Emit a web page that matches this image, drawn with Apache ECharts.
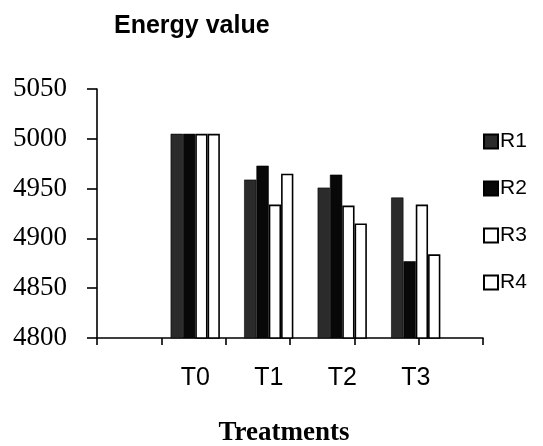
<!DOCTYPE html>
<html>
<head>
<meta charset="utf-8">
<style>
  html, body { margin: 0; padding: 0; background: #fff; }
  #chart { width: 543px; height: 446px; }
</style>
<script src="https://cdn.jsdelivr.net/npm/echarts@6/dist/echarts.min.js"></script>
</head>
<body>
<div id="chart"></div>
<script>
// Treatment groups and replicate energy values
const categories = ['T0', 'T1', 'T2', 'T3'];
const seriesNames = ['R1', 'R2', 'R3', 'R4'];
const r1 = [5005, 4959, 4951, 4941];
const r2 = [5005, 4973, 4964, 4877];
const r3 = [5005, 4934, 4933, 4934];
const r4 = [5005, 4965, 4915, 4884];
const yTicks = { min: 4800, max: 5050, step: 50 };
// Frame axis slots (ticks only)
const frameSlots = ['', '', '', '', '', ''];

const chart = echarts.init(document.getElementById('chart'), null, { renderer: 'canvas' });

const fills = ['#2b2b2b', '#080808', '#ffffff', '#ffffff'];
const values = [r1, r2, r3, r4];

const series = seriesNames.map((name, i) => ({
  name: name,
  type: 'bar',
  xAxisIndex: 1,
  yAxisIndex: 1,
  data: values[i],
  barGap: '0%',
  barCategoryGap: '33%',
  itemStyle: {
    color: fills[i],
    borderColor: '#000',
    borderWidth: i >= 2 ? 1.6 : 0.6
  }
}));

chart.setOption({
  animation: false,
  backgroundColor: '#ffffff',
  title: {
    text: 'Energy value',
    left: 114,
    top: 14,
    padding: 0,
    textStyle: { fontFamily: 'Liberation Sans', fontWeight: 'bold', fontSize: 25, color: '#000' }
  },
  legend: {
    orient: 'vertical',
    left: 483,
    top: 131,
    padding: 0,
    itemWidth: 14,
    itemHeight: 14,
    itemGap: 26,
    icon: 'rect',
    data: seriesNames,
    textStyle: { fontFamily: 'Liberation Sans', fontSize: 21, color: '#000', padding: [0, 0, 0, -3] }
  },
  grid: [
    { left: 97, right: 60, top: 89, bottom: 108 },
    { left: 158.5, right: 90.5, top: 89, bottom: 108 }
  ],
  xAxis: [
    {
      type: 'category',
      gridIndex: 0,
      data: frameSlots,
      boundaryGap: true,
      axisLine: { show: true, lineStyle: { color: '#000', width: 1.6 } },
      axisTick: { show: true, length: 7, interval: 0, lineStyle: { color: '#000', width: 1.6 } },
      axisLabel: { show: false },
      splitLine: { show: false }
    },
    {
      type: 'category',
      gridIndex: 1,
      data: categories,
      axisLine: { show: false },
      axisTick: { show: false },
      axisLabel: {
        interval: 0,
        margin: 28,
        fontFamily: 'Liberation Sans',
        fontSize: 25,
        color: '#000'
      },
      splitLine: { show: false }
    }
  ],
  yAxis: [
    {
      type: 'value',
      gridIndex: 0,
      min: yTicks.min,
      max: yTicks.max,
      interval: yTicks.step,
      axisLine: { show: true, lineStyle: { color: '#000', width: 1.6 } },
      axisTick: { show: true, length: 10, lineStyle: { color: '#000', width: 1.6 } },
      axisLabel: {
        margin: 30,
        fontFamily: 'Liberation Serif',
        fontSize: 27,
        color: '#000',
        formatter: (v) => String(v)
      },
      splitLine: { show: false }
    },
    {
      type: 'value',
      gridIndex: 1,
      min: yTicks.min,
      max: yTicks.max,
      interval: yTicks.step,
      show: false,
      splitLine: { show: false }
    }
  ],
  graphic: [
    {
      type: 'text',
      x: 284,
      y: 433,
      style: {
        text: 'Treatments',
        fill: '#000',
        font: 'bold 27px "Liberation Serif"',
        textAlign: 'center',
        textVerticalAlign: 'middle'
      }
    }
  ],
  series: series
});
</script>
</body>
</html>
